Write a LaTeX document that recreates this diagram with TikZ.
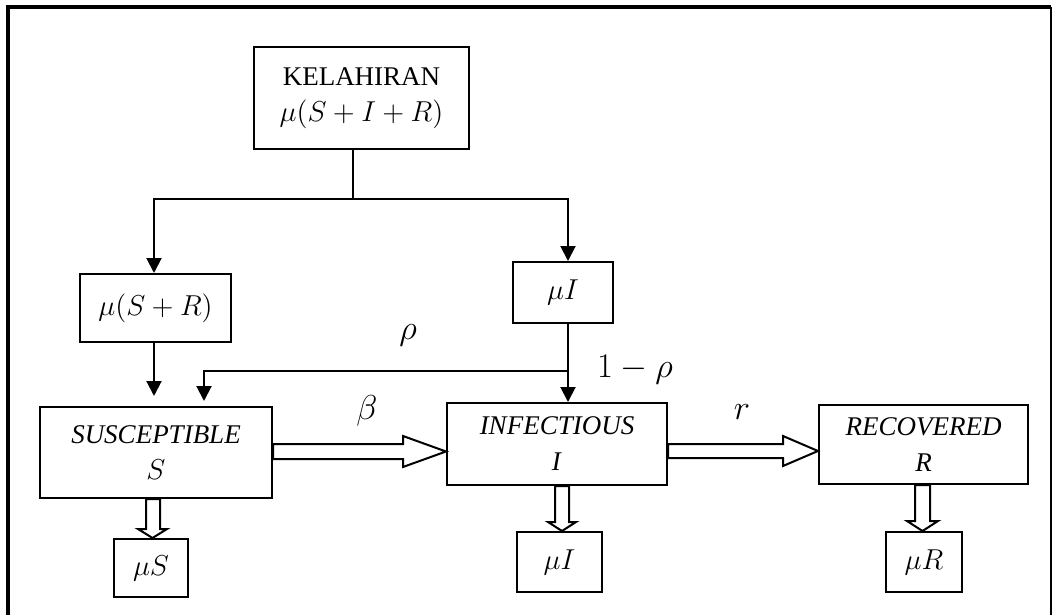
\documentclass[tikz,border=0pt]{standalone}
\usepackage{fontspec}
\setmainfont{Liberation Serif}
\usetikzlibrary{arrows.meta,calc}
\newcommand{\mbx}[1]{{\fontsize{15.5}{18}\selectfont$#1$}}
\begin{document}
\begin{tikzpicture}[x=0.5pt,y=-0.5pt,
  box/.style={draw,line width=1pt,rectangle,inner sep=0pt,align=center,
    font=\fontsize{13.5}{18}\selectfont},
  arr/.style={line width=1pt,-{Triangle[width=7.5pt,length=7.5pt]}},
  ln/.style={line width=1pt},
  hollow/.style={draw,line width=1pt,fill=white,line join=miter},
  lab/.style={font=\fontsize{17}{20}\selectfont,inner sep=0pt}]
\useasboundingbox (0,0) rectangle (1060,615);
% outer frame
\draw[line width=1.8pt] (8,640) -- (8,7) -- (1051,7);
\draw[line width=1pt] (1051,7) -- (1051,640);

% nodes
\node[box,minimum width=107.5pt,minimum height=51pt] (kel) at (361.5,98) {KELAHIRAN\\\mbx{\mu(S+I+R)}};
\node[box,minimum width=75.5pt,minimum height=34pt] (msr) at (155.5,308) {\mbx{\mu(S+R)}};
\node[box,minimum width=50pt,minimum height=30.5pt] (mi1) at (563,292.5) {\mbx{\mu I}};
\node[box,minimum width=116pt,minimum height=45.5pt] (sus) at (156,452.5) {\textit{SUSCEPTIBLE}\\\mbx{S}};
\node[box,minimum width=110pt,minimum height=41pt] (inf) at (557,444) {\textit{INFECTIOUS}\\\textit{I}};
\node[box,minimum width=104.5pt,minimum height=39.5pt] (rec) at (923.5,444.5) {\textit{RECOVERED}\\\textit{R}};
\node[box,minimum width=37pt,minimum height=29pt] (ms) at (151,568) {\mbx{\mu S}};
\node[box,minimum width=42.5pt,minimum height=30pt] (mi2) at (559.5,562) {\mbx{\mu I}};
\node[box,minimum width=38pt,minimum height=30pt] (mr) at (924,562) {\mbx{\mu R}};

% birth split
\coordinate (j) at (353,199);
\coordinate (split) at (568,371);
\draw[ln] (kel.south -| j) -- (j);
\draw[arr] (j) -| ([xshift=-0.75pt]msr.north);
\draw[arr] (j) -| ([xshift=2.5pt]mi1.north);
\draw[arr,shorten >=5pt] ([xshift=-0.75pt]msr.south) -- ([xshift=-0.75pt]msr.south |- sus.north);
\draw[arr] ([xshift=2.5pt]mi1.south) -- (split) -- (inf.north -| split);
\draw[arr,shorten >=2.5pt] (split) -| ([xshift=24pt]sus.north);

% hollow arrows
\filldraw[hollow] (sus.east |- 0,444) -- (403,444) -- (403,436) -- (inf.west |- 0,451.5) -- (403,467) -- (403,459) -- (sus.east |- 0,459) -- cycle;
\filldraw[hollow] (inf.east |- 0,444) -- (783,444) -- (783,436) -- (rec.west |- 0,451) -- (783,466) -- (783,458) -- (inf.east |- 0,458) -- cycle;
\filldraw[hollow] (146,0 |- sus.south) -- (146,529) -- (138,529) -- (152.5,0 |- ms.north) -- (167,529) -- (160,529) -- (160,0 |- sus.south) -- cycle;
\filldraw[hollow] (555,0 |- inf.south) -- (555,522) -- (548,522) -- (562,0 |- mi2.north) -- (576,522) -- (569,522) -- (569,0 |- inf.south) -- cycle;
\filldraw[hollow] (915,0 |- rec.south) -- (915,521) -- (907,521) -- (922.5,0 |- mr.north) -- (938,521) -- (930,521) -- (930,0 |- rec.south) -- cycle;

% labels
\node[lab] (lrho) at (408,335) {$\rho$};
\node[lab] (lbeta) at (367,411) {$\beta$};
\node[lab] (lomr) at (635,370) {$1-\rho$};
\node[lab] (lr) at (742,412) {$r$};
\end{tikzpicture}
\end{document}
